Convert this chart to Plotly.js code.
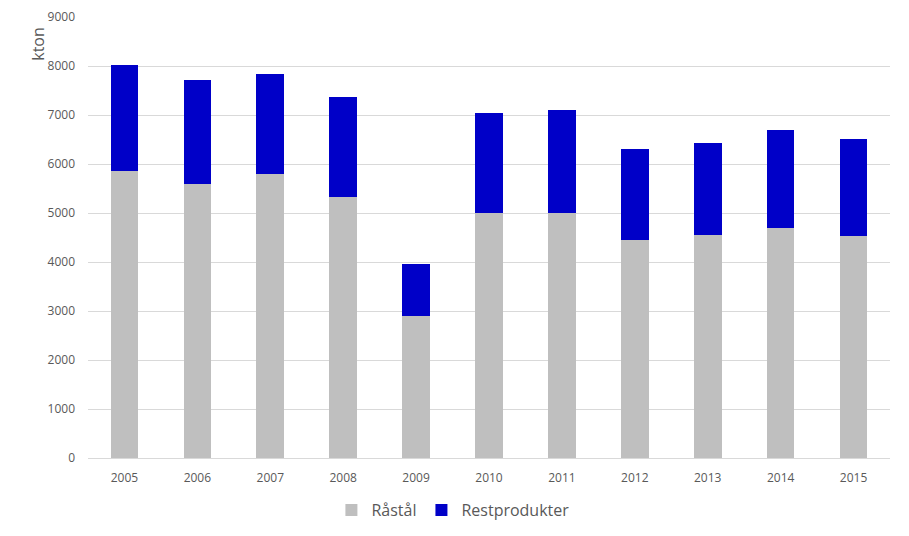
<!DOCTYPE html>
<html>
<head>
<meta charset="utf-8">
<script src="https://cdn.plot.ly/plotly-3.0.1.min.js"></script>
<style>html,body{margin:0;padding:0;background:#fff;}#chart{width:909px;height:536px;}</style>
</head>
<body>
<div id="chart"></div>
<script>
const years = ['2005','2006','2007','2008','2009','2010','2011','2012','2013','2014','2015'];
const rastal = [5850, 5590, 5800, 5330, 2900, 4990, 5010, 4455, 4550, 4700, 4530];
const restprodukter = [2170, 2130, 2040, 2040, 1065, 2060, 2100, 1855, 1870, 1990, 1990];
const yTicks = [0,1000,2000,3000,4000,5000,6000,7000,8000,9000];

const fontFam = 'Open Sans, Liberation Sans, sans-serif';
const data = [
  {type:'bar', name:'Råstål', x:years, y:rastal, marker:{color:'#bfbfbf'}, hoverinfo:'x+y+name'},
  {type:'bar', name:'Restprodukter', x:years, y:restprodukter, marker:{color:'#0000c8'}, hoverinfo:'x+y+name'}
];
const layout = {
  width:909, height:536,
  barmode:'stack', bargap:0.62,
  margin:{l:88, r:19, t:17, b:78, autoexpand:false},
  paper_bgcolor:'#fff', plot_bgcolor:'#fff',
  font:{family:fontFam, color:'#595959', size:12},
  xaxis:{type:'category', showgrid:false, showline:true, linecolor:'#d9d9d9', linewidth:1,
         ticks:'', tickfont:{size:12, color:'#595959'}, ticklabelstandoff:9},
  yaxis:{range:[0,9000], tickvals:yTicks, ticktext:yTicks.map(String), showgrid:true, gridcolor:'#d9d9d9', gridwidth:1,
         zeroline:false, showline:false, ticks:'', tickfont:{size:12, color:'#595959'}, ticklabelstandoff:12},
  showlegend:true,
  legend:{orientation:'h', x:0.455, xanchor:'center', y:-0.118, yanchor:'middle',
          font:{size:16, color:'#595959'}, itemwidth:30, traceorder:'normal'},
  annotations:[{text:'kton', xref:'paper', yref:'paper', x:-0.062, y:0.94, xanchor:'center', yanchor:'middle',
                textangle:-90, showarrow:false, font:{size:16, color:'#595959', family:fontFam}}]
};
Plotly.newPlot('chart', data, layout, {displayModeBar:false, staticPlot:true});
</script>
</body>
</html>
